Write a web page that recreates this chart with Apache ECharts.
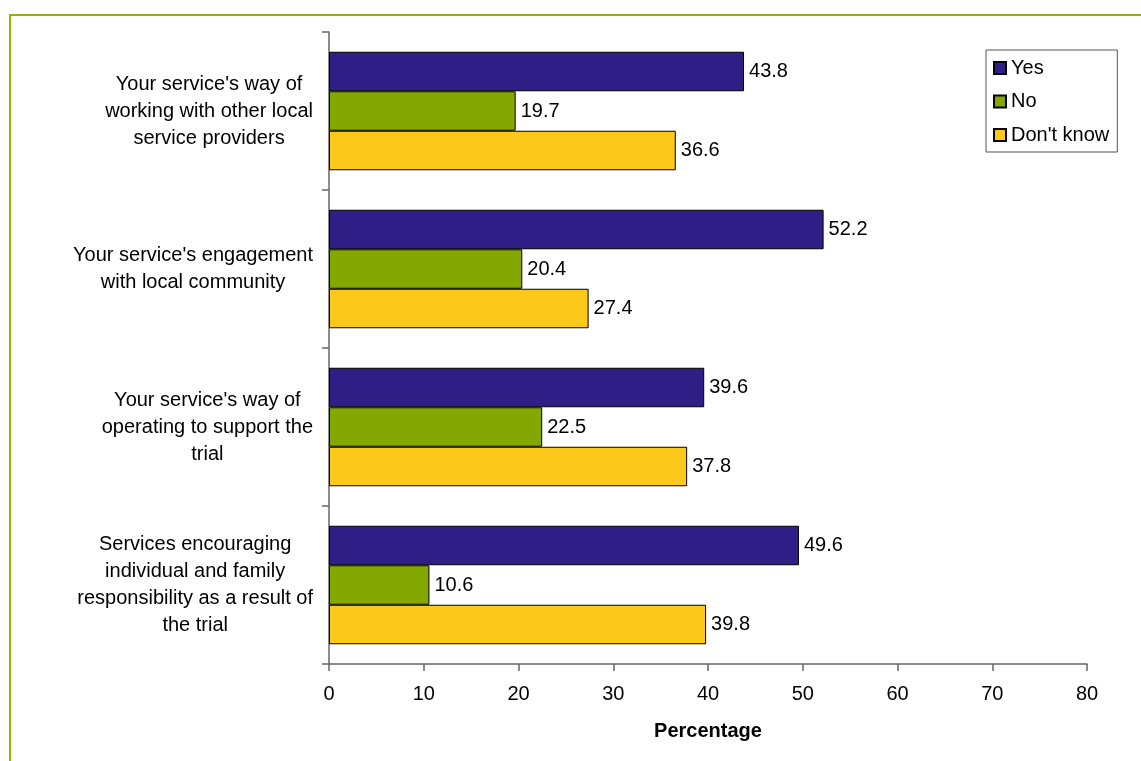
<!DOCTYPE html>
<html>
<head>
<meta charset="utf-8">
<script src="https://cdn.jsdelivr.net/npm/echarts@6/dist/echarts.min.js"></script>
<style>
html,body{margin:0;padding:0;background:#fff;}
#chart{width:1141px;height:761px;}
</style>
</head>
<body>
<div id="chart"></div>
<script>
const categories = [
  "Your service's way of\nworking with other local\nservice providers",
  "Your service's engagement\nwith local community",
  "Your service's way of\noperating to support the\ntrial",
  "Services encouraging\nindividual and family\nresponsibility as a result of\nthe trial"
];
const seriesNames = ["Yes", "No", "Don't know"];
const yesValues = [43.8, 52.2, 39.6, 49.6];
const noValues = [19.7, 20.4, 22.5, 10.6];
const dontKnowValues = [36.6, 27.4, 37.8, 39.8];
const xTicks = { min: 0, max: 80, interval: 10 };

const FONT = '"Liberation Sans", Arial, sans-serif';
const colors = ['#2E1E86', '#85A800', '#FCC81A'];
const seriesData = [yesValues, noValues, dontKnowValues];

const chart = echarts.init(document.getElementById('chart'), null, {renderer: 'canvas'});
chart.setOption({
  animation: false,
  backgroundColor: '#fff',
  textStyle: { fontFamily: FONT },
  graphic: [{
    type: 'rect',
    shape: { x: 10, y: 15, width: 1200, height: 800 },
    style: { fill: 'none', stroke: '#99B000', lineWidth: 2 },
    silent: true
  }],
  grid: { left: 329, right: 54, top: 32, bottom: 97, containLabel: false },
  legend: {
    orient: 'vertical',
    left: 986, top: 50,
    padding: [8, 8, 7, 7],
    itemGap: 13.5,
    itemWidth: 12, itemHeight: 12,
    icon: 'rect',
    borderColor: '#555', borderWidth: 1,
    backgroundColor: '#fff',
    textStyle: { fontFamily: FONT, fontSize: 20, color: '#000' },
    data: seriesNames
  },
  xAxis: {
    type: 'value',
    min: xTicks.min, max: xTicks.max, interval: xTicks.interval,
    name: 'Percentage',
    nameLocation: 'middle',
    nameGap: 57,
    nameTextStyle: { fontFamily: FONT, fontSize: 20, fontWeight: 'bold', color: '#000' },
    axisLine: { show: true, lineStyle: { color: '#666', width: 1.5 } },
    axisTick: { show: true, length: 7, lineStyle: { color: '#666', width: 1.5 } },
    axisLabel: { fontFamily: FONT, fontSize: 20, color: '#000', margin: 20 },
    splitLine: { show: false }
  },
  yAxis: {
    type: 'category',
    inverse: true,
    data: categories,
    axisLine: { show: true, lineStyle: { color: '#666', width: 1.5 } },
    axisTick: { show: true, length: 7, lineStyle: { color: '#666', width: 1.5 } },
    axisLabel: {
      align: 'right',
      margin: 16,
      fontFamily: FONT,
      fontSize: 20,
      color: '#000',
      formatter: function (v) {
        return v.split('\n').map(function (l) { return '{c|' + l + '}'; }).join('\n');
      },
      rich: {
        c: { align: 'center', fontFamily: FONT, fontSize: 20, lineHeight: 27, color: '#000' }
      }
    }
  },
  series: seriesNames.map(function (name, i) {
    return {
      name: name,
      type: 'bar',
      data: seriesData[i],
      barGap: '0%',
      barCategoryGap: '25%',
      itemStyle: { color: colors[i], borderColor: '#000', borderWidth: 1 },
      label: {
        show: true, position: 'right', distance: 5,
        fontFamily: FONT, fontSize: 20, color: '#000',
        formatter: function (p) { return p.value.toFixed(1); }
      }
    };
  })
});
</script>
</body>
</html>
